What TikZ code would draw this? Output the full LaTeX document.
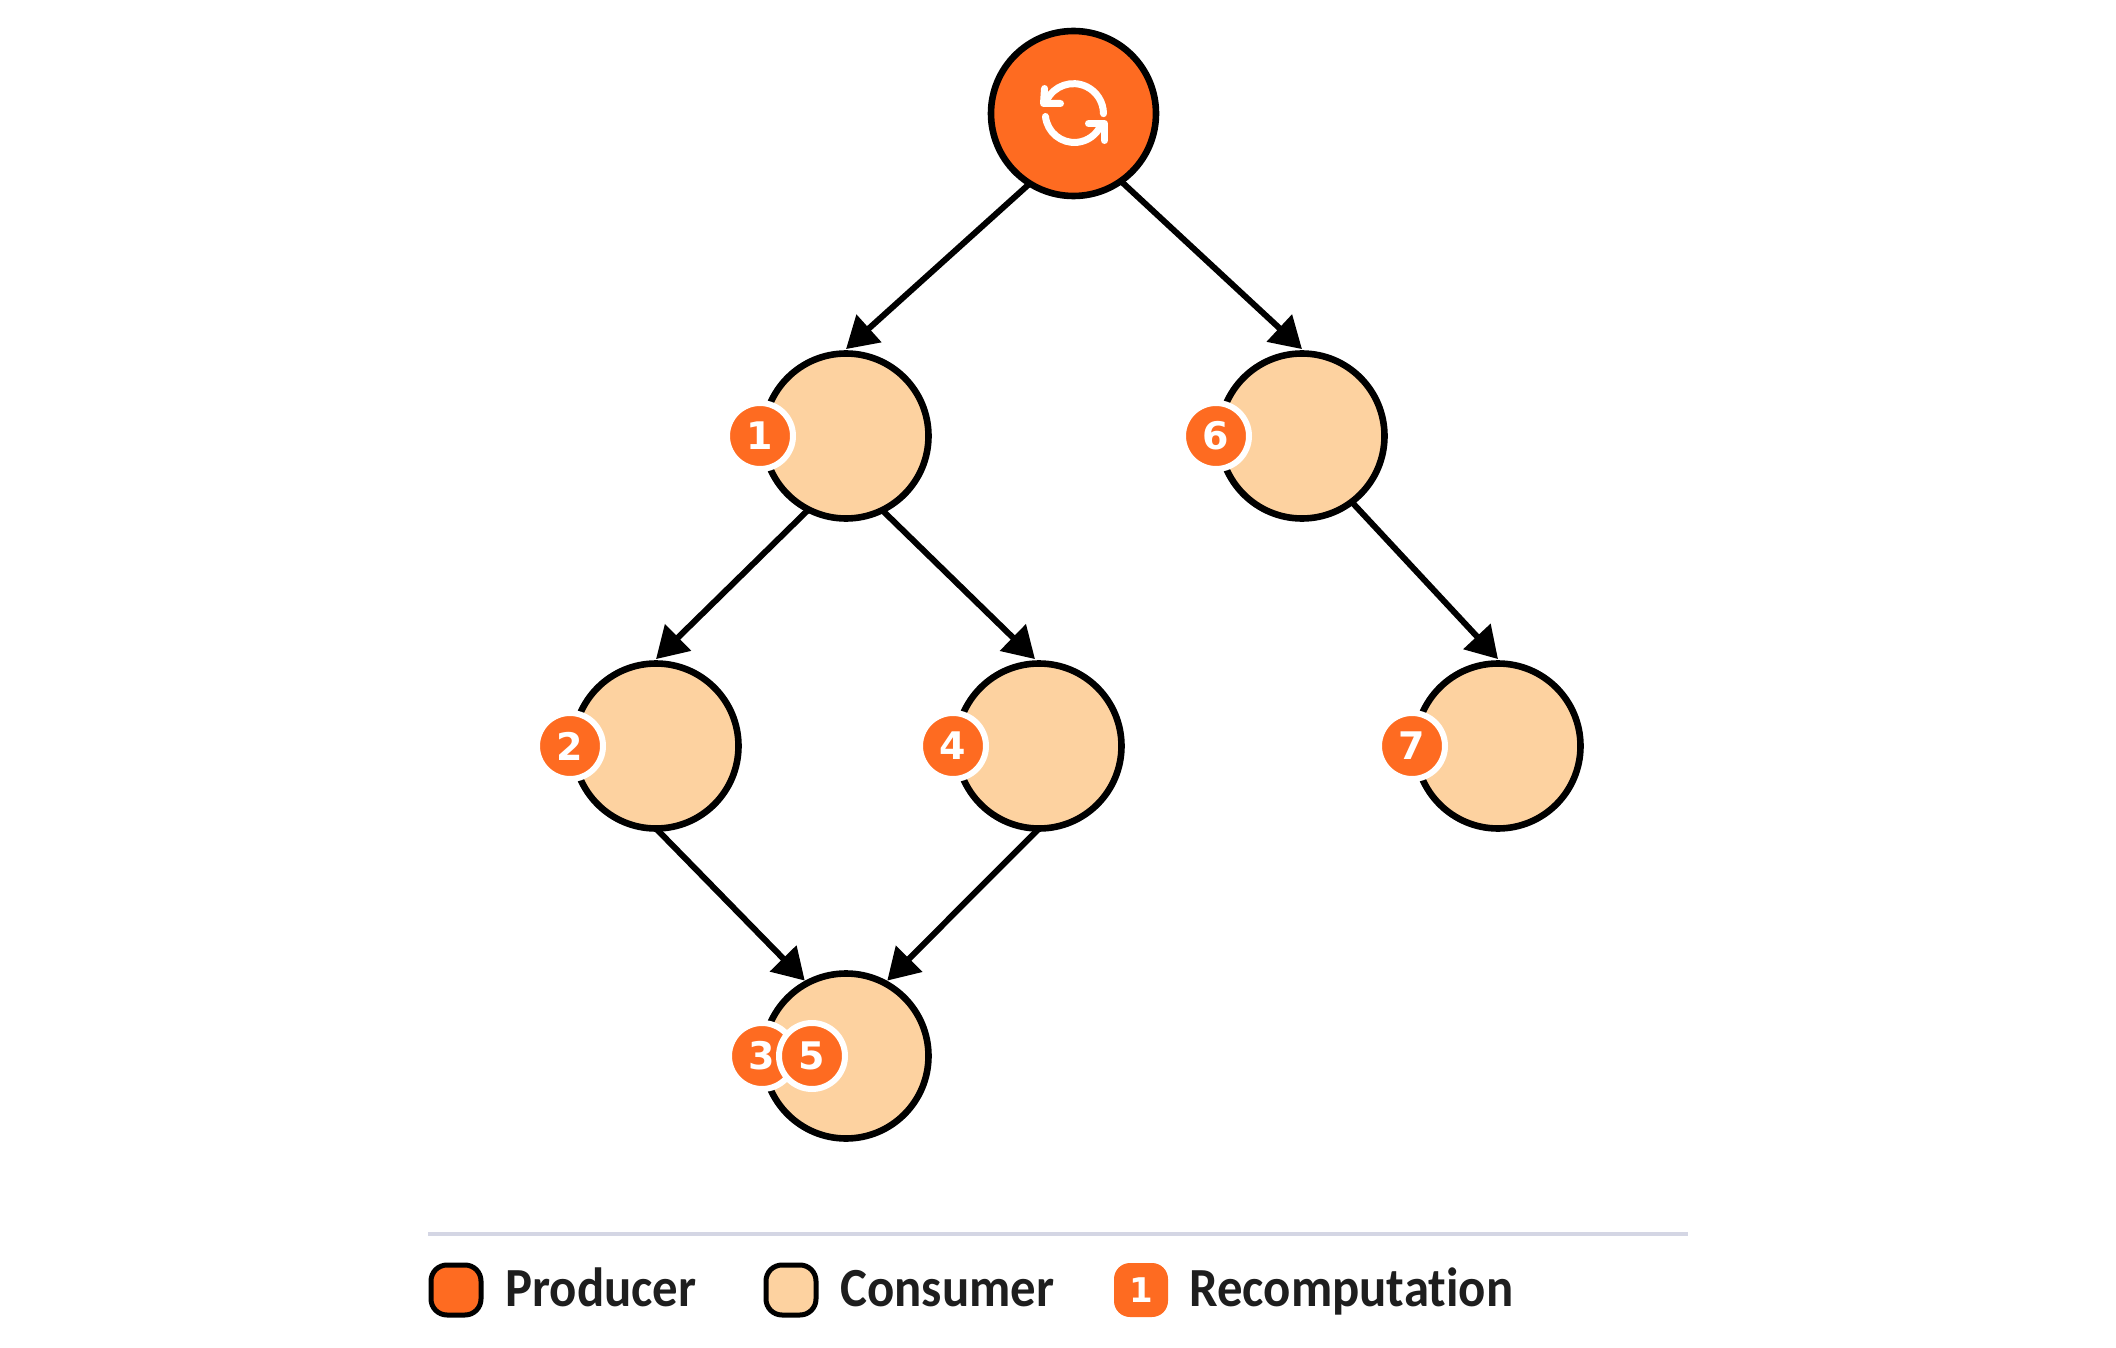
\documentclass[tikz,border=0pt]{standalone}
\usepackage{fontspec}
\setmainfont[Ligatures=NoCommon,FakeStretch=0.92]{Carlito}
\newfontfamily\digitfont{DejaVu Sans}
\usetikzlibrary{arrows.meta}
\definecolor{prodorange}{HTML}{FE6B21}
\definecolor{conspeach}{HTML}{FDD2A0}
\definecolor{rulegrey}{HTML}{D4D6E4}
\definecolor{inkdark}{HTML}{1E1E1E}
\tikzset{
  producer/.style={circle,draw=black,fill=prodorange,line width=3.3pt,minimum size=82.5pt,inner sep=0pt,outer sep=0pt},
  consumer/.style={circle,draw=black,fill=conspeach,line width=3.3pt,minimum size=82.5pt,inner sep=0pt,outer sep=0pt},
  badge/.style={circle,draw=white,fill=prodorange,line width=3pt,minimum size=33pt,inner sep=0pt,outer sep=0pt,text=white,font=\digitfont\bfseries\fontsize{19}{19}\selectfont},
  edge/.style={line width=3pt,black,-{Triangle[length=15.5pt,width=18pt]}},
  edgeup/.style={edge,shorten >=1.8pt},
  swatch/.style={rounded corners=8pt,minimum width=25pt,minimum height=25pt,inner sep=0pt,outer sep=0pt},
  legendtext/.style={anchor=base west,inner sep=0pt,text=inkdark,font=\bfseries\fontsize{27.6}{27.6}\selectfont},
  iconline/.style={draw=white,line width=3.5pt,line cap=round,line join=round}
}
\begin{document}
\begin{tikzpicture}[x=0.5pt,y=-0.5pt]
\useasboundingbox (0,0) rectangle (2116,1348);
% graph nodes
\node[producer] (top) at (1073.5,113.5) {};
\node[consumer] (n1) at (846,436) {};
\node[consumer] (n6) at (1302,436) {};
\node[consumer] (n2) at (656,746) {};
\node[consumer] (n4) at (1039,746) {};
\node[consumer] (n7) at (1498,746) {};
\node[consumer] (n35) at (846,1056) {};
% connectors
\draw[edge] (top.-122) -- ([yshift=2.2pt]n1.north);
\draw[edge] (top.-55) -- ([yshift=2.2pt]n6.north);
\draw[edge] (n1.-117) -- ([yshift=2.2pt]n2.north);
\draw[edge] (n1.-64) -- ([xshift=-2pt,yshift=2.2pt]n4.north);
\draw[edge] (n6.-53) -- ([yshift=2.2pt]n7.north);
\draw[edgeup] (n2.south) -- (n35.118);
\draw[edgeup] (n4.south) -- (n35.62);
% badges
\node[badge] (b1) at (760,436) {1};
\node[badge] (b6) at (1216,436) {6};
\node[badge] (b2) at (570,746) {2};
\node[badge] (b4) at (953,746) {4};
\node[badge] (b7) at (1412,746) {7};
\node[badge] (b3) at (762,1056) {3};
\node[badge] (b5) at (812,1056) {5};
% refresh icon
\begin{scope}[shift={(top.center)},x=0.5pt,y=0.5pt]
  \draw[iconline] (-27,13) arc[start angle=154,end angle=0,radius=15pt];
  \draw[iconline] (-29,25) -- (-30,10) -- (-13,10);
  \draw[iconline] (-28,-3) arc[start angle=186,end angle=335,radius=14.5pt];
  \draw[iconline] (15,-10) -- (31,-10) -- (31,-27);
\end{scope}
% legend
\coordinate (ruleL) at (428,1234);
\coordinate (ruleR) at (1688,1234);
\draw[rulegrey,line width=2pt] (ruleL) -- (ruleR);
\node[swatch,draw=black,line width=2.5pt,fill=prodorange] (sp) at (456,1290) {};
\node[legendtext] (tp) at (505,1306) {Producer};
\node[swatch,draw=black,line width=2.5pt,fill=conspeach] (sc) at (791,1290) {};
\node[legendtext] (tc) at (840,1306) {Consumer};
\node[swatch,fill=prodorange,minimum width=27pt,minimum height=27pt,text=white,font=\digitfont\bfseries\fontsize{17}{17}\selectfont] (sr) at (1141,1290) {1};
\node[legendtext] (tr) at (1189,1306) {Recomputation};
\end{tikzpicture}
\end{document}
